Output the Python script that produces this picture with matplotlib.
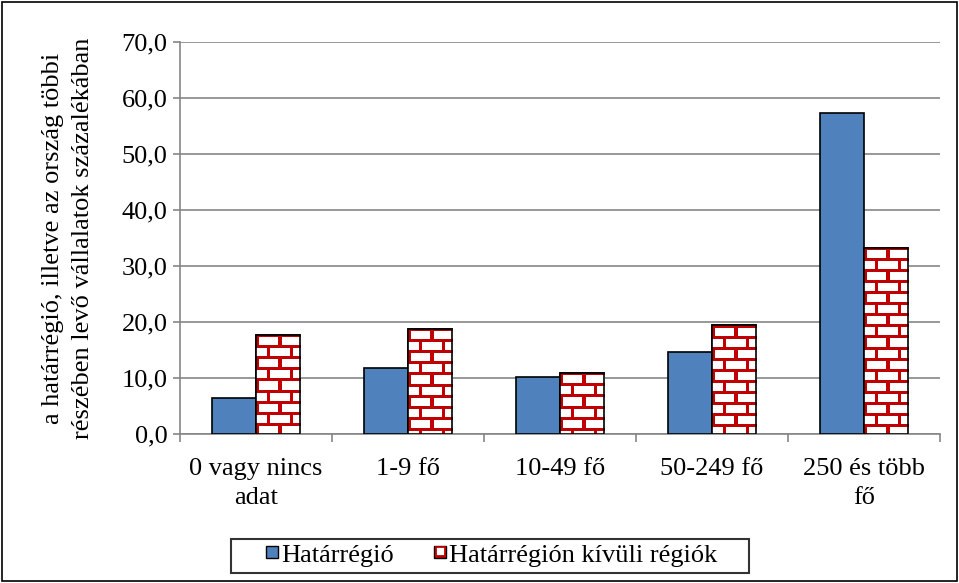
import matplotlib.pyplot as plt
import numpy as np
from matplotlib.patches import Patch, Rectangle
from matplotlib.legend_handler import HandlerBase

plt.rcParams['font.family'] = ['Liberation Serif', 'DejaVu Serif']

categories = ['0 vagy nincs\nadat', '1-9 fő', '10-49 fő', '50-249 fő', '250 és több\nfő']
hatar = [6.4, 11.8, 10.2, 14.6, 57.3]
kivul = [17.7, 18.8, 10.9, 19.4, 33.3]
series_names = ['Határrégió', 'Határrégión kívüli régiók']
yticks = np.arange(0, 71, 10)

blue = '#4F81BD'
red = '#C00000'
grey = '#868686'
fs = 19


def brick_image(nrows, ncols, row_h=11, brick_w=22, lw=3):
    # white bricks with red mortar, in pixel units
    img = np.ones((nrows, ncols, 3))
    rc = np.array([192, 0, 0]) / 255
    for r in range(nrows):
        row = r // row_h
        if r % row_h < lw:
            img[r, :] = rc
            continue
        off = 0 if row % 2 == 0 else brick_w // 2
        for c in range(ncols):
            if (c + off) % brick_w < lw:
                img[r, c] = rc
    return img


class SquareAtRight(HandlerBase):
    # small square pushed to the right end of the handle box
    def create_artists(self, legend, orig, xdescent, ydescent, width, height, fontsize, trans):
        s = 8.5
        x0 = -xdescent + width - s
        y0 = -ydescent + (height - s) / 2 + 1
        arts = [Rectangle((x0, y0), s, s, facecolor=orig.get_facecolor(),
                          edgecolor='black', linewidth=1.0, transform=trans)]
        if orig.get_label() == 'inner':
            arts.append(Rectangle((x0 + 1, y0 + 1), s - 2, s - 2, facecolor='white',
                                  edgecolor=red, linewidth=1.3, transform=trans))
        return arts


fig = plt.figure(figsize=(9.59, 5.83), dpi=100)
ax = fig.add_axes([0.1877, 0.2556, 0.7925, 0.6724])

x = np.arange(len(categories))
w = 0.29
b1 = ax.bar(x - w / 2, hatar, w, color=blue, edgecolor='black', linewidth=1.2, zorder=3)
b2 = ax.bar(x + w / 2, kivul, w, color='white', edgecolor='black', linewidth=1.2, zorder=3)

ax.set_xlim(-0.5, len(categories) - 0.5)
ax.set_ylim(0, 70)

# brick texture inside the second series
px_per_unit = 392 / 70
for rect in b2:
    x0, y0 = rect.get_x(), rect.get_y()
    bw, bh = rect.get_width(), rect.get_height()
    nrows = max(int(round(bh * px_per_unit)), 1)
    img = brick_image(nrows, 44)
    im = ax.imshow(img, extent=(x0, x0 + bw, y0, y0 + bh), origin='upper',
                   interpolation='nearest', aspect='auto', zorder=3.5)
    im.set_clip_path(rect)
    edge = Rectangle((x0, y0), bw, bh, fill=False, edgecolor='black', linewidth=1.2, zorder=4)
    ax.add_patch(edge)

ax.set_aspect('auto')
ax.set_xlim(-0.5, len(categories) - 0.5)
ax.set_ylim(0, 70)

ax.set_yticks(yticks)
ax.set_yticklabels([f'{v:.1f}'.replace('.', ',') for v in yticks], fontsize=fs)
ax.yaxis.grid(True, color=grey, linewidth=1.2, zorder=0)
ax.set_axisbelow(True)

ax.set_xticks(x)
ax.set_xticklabels(categories, fontsize=fs, linespacing=1.45, va='top')
ax.tick_params(axis='x', which='major', length=0, pad=17)
ax.set_xticks(np.arange(-0.5, len(categories)), minor=True)
ax.tick_params(axis='x', which='minor', length=6, color=grey, width=1.2)
ax.tick_params(axis='y', length=5, color=grey, width=1.2, pad=4)

for s in ['top', 'right']:
    ax.spines[s].set_visible(False)
for s in ['left', 'bottom']:
    ax.spines[s].set_color(grey)
    ax.spines[s].set_linewidth(1.2)

ax.set_ylabel('a határrégió, illetve az ország többi\nrészében levő vállalatok százalékában',
              fontsize=fs, linespacing=1.45, labelpad=20)

handles = [Patch(facecolor=blue, label='outer'),
           Patch(facecolor=red, label='inner')]
hm = {h: SquareAtRight() for h in handles}
leg = fig.legend(handles, [series_names[0], series_names[1] + '    '], loc='center',
                 bbox_to_anchor=(0.511, 0.047), ncol=2, fontsize=fs, frameon=True,
                 fancybox=False, edgecolor='black', handler_map=hm,
                 handlelength=1.6, handleheight=0.7, handletextpad=0.12, columnspacing=0.38,
                 borderpad=0.2)
leg.get_frame().set_linewidth(1.5)

fig.patches.append(Rectangle((0.002, 0.003), 0.996, 0.994, transform=fig.transFigure,
                             fill=False, edgecolor='black', linewidth=1.2))

fig.savefig('out.png', dpi=100)
